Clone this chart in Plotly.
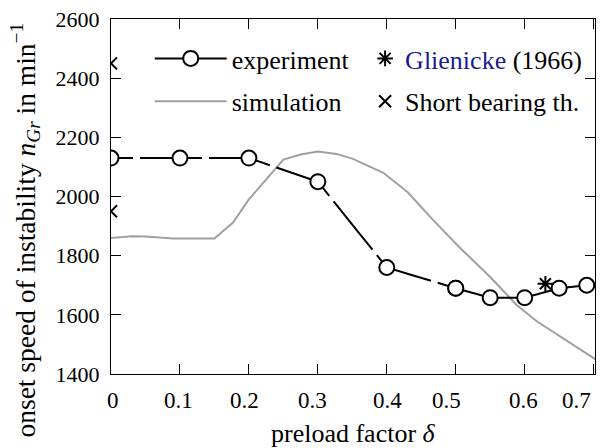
import plotly.graph_objects as go

# Measured onset speed of instability vs. preload factor
exp_delta = [0.0, 0.1, 0.2, 0.3, 0.4, 0.5, 0.55, 0.6, 0.65, 0.69]
exp_speed = [2130, 2130, 2130, 2050, 1760, 1690, 1658, 1658, 1690, 1700]
dash_until = 5  # index where the dashed part of the measurement ends

# Simulated stability limit
sim_delta = [0.0, 0.03, 0.05, 0.09, 0.15, 0.177, 0.2, 0.225, 0.25, 0.275, 0.3,
             0.327, 0.35, 0.395, 0.43, 0.467, 0.506, 0.55, 0.588, 0.617, 0.646,
             0.675, 0.703]
sim_speed = [1860, 1866, 1865, 1858, 1858, 1912, 1990, 2059, 2125, 2142, 2152,
             2144, 2128, 2080, 2015, 1921, 1827, 1728, 1634, 1579, 1535,
             1490, 1449]

# Literature value and short bearing theory
glie_delta = [0.63]
glie_speed = [1705]
sbt_delta = [0.0, 0.0]
sbt_speed = [2450, 1950]

x_ticks = [0, 0.1, 0.2, 0.3, 0.4, 0.5, 0.6, 0.7]
x_tick_text = ["0", "0.1", "0.2", "0.3", "0.4", "0.5", "0.6", "0.7"]
x_label_shift = [2, -1, -4, -5, 1, -9, -1, -17]
y_ticks = [1400, 1600, 1800, 2000, 2200, 2400, 2600]

FONT = "Liberation Serif, Times New Roman, DejaVu Serif, serif"
XTICK_SIZE = 23
YTICK_SIZE = 22
LEGEND_SIZE = 26
TITLE_SIZE = 26
YTITLE_SIZE = 27.5

fig = go.Figure()

fig.add_trace(go.Scatter(
    x=sim_delta, y=sim_speed, mode="lines", name="simulation",
    line=dict(color="#a0a0a0", width=2), legend="legend",
    legendgroup="sim", legendrank=2,
))

fig.add_trace(go.Scatter(
    x=exp_delta[:dash_until + 1], y=exp_speed[:dash_until + 1],
    mode="lines+markers", showlegend=False, legendgroup="exp",
    line=dict(color="black", width=2, dash="22px,7px,40px,0px"),
    marker=dict(symbol="circle", size=15, color="white",
                line=dict(color="black", width=2)),
))
fig.add_trace(go.Scatter(
    x=exp_delta[dash_until:], y=exp_speed[dash_until:],
    mode="lines+markers", name="experiment", legend="legend",
    legendgroup="exp", legendrank=1,
    line=dict(color="black", width=2),
    marker=dict(symbol="circle", size=15, color="white",
                line=dict(color="black", width=2)),
))

fig.add_trace(go.Scatter(
    x=glie_delta, y=glie_speed, mode="markers",
    name='<span style="color:#1b1b8f">Glienicke</span> (1966)',
    legend="legend2", legendgroup="glie", legendrank=1,
    marker=dict(symbol="asterisk-open", size=13, color="black",
                line=dict(color="black", width=2)),
))
fig.add_trace(go.Scatter(
    x=sbt_delta, y=sbt_speed, mode="markers", name="Short bearing th.",
    legend="legend2", legendgroup="sbt", legendrank=2,
    marker=dict(symbol="x-thin-open", size=12, color="black",
                line=dict(color="black", width=2)),
))

axis_common = dict(
    showline=True, linecolor="black", linewidth=1.3, mirror="ticks",
    ticks="inside", ticklen=10, tickwidth=1.3, tickcolor="black",
    showgrid=False, zeroline=False,
)

fig.update_xaxes(range=[0, 0.702], tickvals=x_ticks, showticklabels=False,
                 **axis_common)
fig.update_yaxes(range=[1400, 2600], tickvals=y_ticks,
                 tickfont=dict(family=FONT, size=YTICK_SIZE, color="black"),
                 ticklabelstandoff=6, ticklabeloverflow="allow",
                 **axis_common)

annotations = []
for v, t, s in zip(x_ticks, x_tick_text, x_label_shift):
    annotations.append(dict(
        x=v, y=0, xref="x", yref="paper", text=t, showarrow=False,
        xanchor="center", yanchor="middle", xshift=s, yshift=-26,
        font=dict(family=FONT, size=XTICK_SIZE, color="black"),
    ))
annotations.append(dict(
    x=0.5, y=0, xref="paper", yref="paper", text="preload factor <i>δ</i>",
    showarrow=False, xanchor="center", yanchor="middle", yshift=-59,
    font=dict(family=FONT, size=TITLE_SIZE, color="black"),
))
annotations.append(dict(
    x=-0.177, y=0.405, xref="paper", yref="paper",
    text="onset speed of instability <i>n</i><sub><i>Gr</i></sub> in min<sup>−1</sup>",
    textangle=-90, showarrow=False, xanchor="center", yanchor="middle",
    font=dict(family=FONT, size=YTITLE_SIZE, color="black"),
))

legend_common = dict(
    bgcolor="rgba(0,0,0,0)", borderwidth=0, orientation="v",
    font=dict(family=FONT, size=LEGEND_SIZE, color="black"),
    xanchor="left", yanchor="top", tracegroupgap=6,
)

fig.update_layout(
    width=603, height=448,
    margin=dict(l=111, r=7, t=12, b=74),
    paper_bgcolor="white", plot_bgcolor="white",
    font=dict(family=FONT, size=LEGEND_SIZE, color="black"),
    annotations=annotations,
    legend=dict(x=0.08, y=0.955, itemwidth=72, **legend_common),
    legend2=dict(x=0.525, y=0.955, itemwidth=30, **legend_common),
)

fig.write_html("out.html")
